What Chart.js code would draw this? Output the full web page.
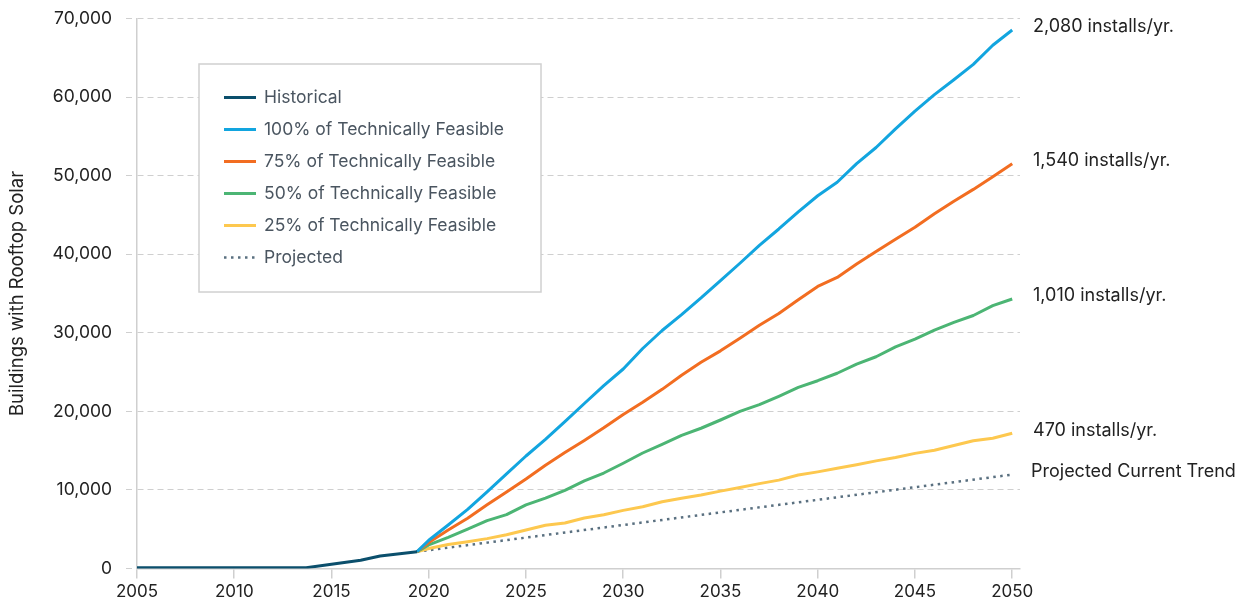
<!DOCTYPE html>
<html>
<head>
<meta charset="utf-8">
<script src="https://cdn.jsdelivr.net/npm/chart.js@4.4.1/dist/chart.umd.min.js"></script>
<style>
  html, body { margin: 0; padding: 0; background: #fff; }
  #wrap { position: relative; width: 1253px; height: 607px; }
</style>
</head>
<body>
<div id="wrap"><canvas id="chart-solar"></canvas></div>
<script>
  // Historical installs
  const histYears  = [2005, 2013.7, 2015, 2016.5, 2017.5, 2019.4];
  const histValues = [100, 100, 550, 1050, 1600, 2140];

  // Scenario years (start at last historical point)
  const scenarioYears = [2019.4, 2020, 2021, 2022, 2023, 2024, 2025, 2026, 2027, 2028, 2029,
    2030, 2031, 2032, 2033, 2034, 2035, 2036, 2037, 2038, 2039,
    2040, 2041, 2042, 2043, 2044, 2045, 2046, 2047, 2048, 2049, 2050];

  const feasible100 = [2140, 3600, 5540, 7520, 9760, 12030, 14320, 16440, 18700, 21000, 23280,
    25390, 28000, 30290, 32310, 34430, 36650, 38850, 41130, 43210, 45390,
    47440, 49160, 51530, 53580, 55960, 58220, 60310, 62200, 64170, 66600, 68540];
  const feasible75 = [2140, 3300, 4900, 6400, 8100, 9750, 11400, 13150, 14750, 16300, 17900,
    19600, 21150, 22800, 24600, 26250, 27700, 29300, 30950, 32450, 34200,
    35900, 37050, 38750, 40350, 41900, 43420, 45150, 46750, 48250, 49850, 51500];
  const feasible50 = [2140, 3000, 3950, 5000, 6100, 6850, 8100, 8950, 9950, 11150, 12150,
    13400, 14700, 15800, 16950, 17850, 18900, 19990, 20850, 21920, 23050,
    23900, 24850, 26000, 26950, 28200, 29180, 30350, 31330, 32200, 33450, 34300];
  const feasible25 = [2140, 2550, 3050, 3400, 3800, 4300, 4900, 5500, 5800, 6420, 6850,
    7400, 7850, 8500, 8950, 9350, 9850, 10300, 10800, 11250, 11900,
    12300, 12750, 13200, 13700, 14120, 14650, 15050, 15650, 16250, 16570, 17210];

  const projectedYears  = [2019.4, 2050];
  const projectedValues = [2140, 11950];

  const yearTicks = [2005, 2010, 2015, 2020, 2025, 2030, 2035, 2040, 2045, 2050];

  const FONT = 'Inter, "Noto Sans", sans-serif';

  function pts(xs, ys) { return xs.map((x, i) => ({ x, y: ys[i] })); }

  function line(label, color, data, endLabel) {
    return {
      label,
      data,
      endLabel,
      borderColor: color,
      backgroundColor: color,
      borderWidth: 3,
      pointRadius: 0,
      tension: 0,
      borderJoinStyle: 'round',
      fill: false,
    };
  }

  const datasets = [
    line('Historical', '#0b4f6c', pts(histYears, histValues)),
    line('100% of Technically Feasible', '#12a5df', pts(scenarioYears, feasible100), '2,080 installs/yr.'),
    line('75% of Technically Feasible', '#f26d21', pts(scenarioYears, feasible75), '1,540 installs/yr.'),
    line('50% of Technically Feasible', '#4cb574', pts(scenarioYears, feasible50), '1,010 installs/yr.'),
    line('25% of Technically Feasible', '#fdc84f', pts(scenarioYears, feasible25), '470 installs/yr.'),
    Object.assign(line('Projected', '#5a7080', pts(projectedYears, projectedValues), 'Projected Current Trend'),
      { borderWidth: 2.5, borderDash: [2.5, 4.5] }),
  ];

  // boxed legend inside the plot
  const boxLegend = {
    id: 'boxLegend',
    afterDraw(chart) {
      const ctx = chart.ctx;
      ctx.save();
      ctx.strokeStyle = '#d0d0d0';
      ctx.lineWidth = 1.5;
      ctx.fillStyle = '#fff';
      ctx.fillRect(199, 64, 342, 228);
      ctx.strokeRect(199, 64, 342, 228);
      ctx.font = '17.5px ' + FONT;
      ctx.textBaseline = 'middle';
      chart.data.datasets.forEach((ds, i) => {
        const y = 97.5 + i * 32;
        ctx.strokeStyle = ds.borderColor;
        ctx.lineWidth = ds.borderWidth;
        ctx.setLineDash(ds.borderDash || []);
        ctx.beginPath();
        ctx.moveTo(224, y);
        ctx.lineTo(256, y);
        ctx.stroke();
        ctx.setLineDash([]);
        ctx.fillStyle = '#4a5560';
        ctx.fillText(ds.label, 264, y);
      });
      ctx.restore();
    }
  };

  // rate labels at the right end of each scenario line
  const endLabels = {
    id: 'endLabels',
    afterDatasetsDraw(chart) {
      const ctx = chart.ctx;
      ctx.save();
      ctx.font = '18px ' + FONT;
      ctx.fillStyle = '#222';
      ctx.textBaseline = 'middle';
      chart.data.datasets.forEach((ds, i) => {
        if (!ds.endLabel) return;
        const els = chart.getDatasetMeta(i).data;
        const last = els[els.length - 1];
        const x = ds.label === 'Projected' ? 1031 : 1033;
        ctx.fillText(ds.endLabel, x, last.y - 3);
      });
      ctx.restore();
    }
  };

  new Chart(document.getElementById('chart-solar'), {
    type: 'line',
    data: { datasets },
    plugins: [endLabels, boxLegend],
    options: {
      responsive: true,
      maintainAspectRatio: false,
      animation: false,
      layout: { padding: { top: 18.5, right: 233, left: 0, bottom: 0 } },
      plugins: { legend: { display: false }, tooltip: { enabled: false } },
      scales: {
        x: {
          type: 'linear',
          min: 2005,
          max: 2050.4,
          afterBuildTicks: (scale) => { scale.ticks = yearTicks.map(v => ({ value: v })); },
          afterFit: (scale) => { scale.height = 38.5; scale.paddingLeft = 0; scale.paddingRight = 0; },
          grid: { drawOnChartArea: false, drawTicks: true, tickLength: 10, color: '#cfcfcf', lineWidth: 1.5 },
          border: { display: true, color: '#cfcfcf', width: 1.5 },
          ticks: {
            color: '#222',
            padding: 3,
            maxRotation: 0,
            font: { family: FONT, size: 17 },
            callback: (v) => String(v),
          },
        },
        y: {
          min: 0,
          max: 70000,
          afterFit: (scale) => { scale.width = 137; scale.paddingTop = 0; scale.paddingBottom = 0; },
          grid: { color: '#cfcfcf', lineWidth: 1, tickLength: 11, drawTicks: true, tickBorderDash: [6, 4] },
          border: { display: true, color: '#cfcfcf', width: 1.5, dash: [6, 4] },
          ticks: {
            stepSize: 10000,
            color: '#222',
            padding: 14,
            font: { family: FONT, size: 17.5 },
            callback: (v) => v.toLocaleString('en-US'),
          },
          title: {
            display: true,
            text: 'Buildings with Rooftop Solar',
            color: '#222',
            padding: { top: 6, bottom: 0 },
            font: { family: FONT, size: 18.5 },
          },
        },
      },
    },
  });
</script>
</body>
</html>
